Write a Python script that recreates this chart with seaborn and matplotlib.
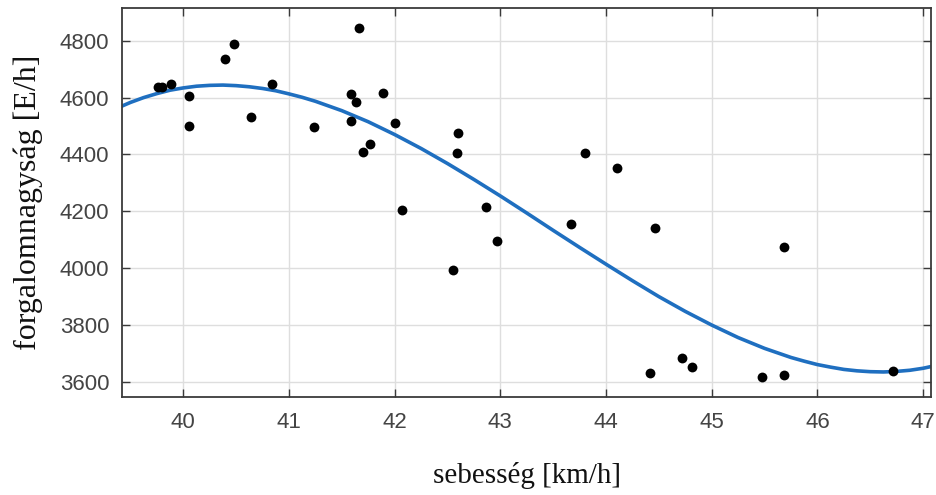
import numpy as np
import pandas as pd
import matplotlib
matplotlib.use("Agg")
import matplotlib.pyplot as plt
import seaborn as sns

# Measured points: speed [km/h] vs. traffic flow [E/h]
speed = [39.76, 39.80, 39.88, 40.05, 40.05, 40.39, 40.48, 40.64, 40.84, 41.24,
         41.59, 41.63, 41.59, 41.665, 41.70, 41.77, 41.89, 42.00, 42.07, 42.55,
         42.59, 42.60, 42.86, 42.97, 43.67, 43.80, 44.10, 44.42, 44.46, 44.72,
         44.81, 45.48, 45.68, 45.68, 46.72]
flow = [4636, 4638, 4647, 4606, 4501, 4735, 4787, 4533, 4647, 4496,
        4612, 4583, 4518, 4846, 4410, 4437, 4615, 4512, 4203, 3993,
        4406, 4475, 4215, 4095, 4155, 4406, 4354, 3633, 4142, 3683,
        3654, 3617, 3625, 4074, 3639]

# Fitted curve
curve_x = [39.25, 39.375, 39.5, 39.625, 39.75, 39.875, 40.0, 40.125, 40.25,
           40.375, 40.5, 40.625, 40.75, 40.875, 41.0, 41.125, 41.25, 41.5,
           41.75, 42.0, 42.25, 42.5, 42.75, 43.0, 43.25, 43.5, 43.75, 44.0,
           44.25, 44.5, 44.75, 45.0, 45.25, 45.5, 45.75, 45.875, 46.0, 46.125,
           46.25, 46.375, 46.5, 46.625, 46.75, 46.875, 47.0, 47.125, 47.25]
curve_y = [4539, 4563, 4583, 4600, 4614, 4626, 4634, 4640, 4643,
           4644, 4642, 4638, 4632, 4624, 4613, 4601, 4587, 4554,
           4515, 4470, 4421, 4368, 4312, 4254, 4194, 4133, 4073, 4014,
           3956, 3900, 3848, 3800, 3756, 3718, 3686, 3673, 3661, 3652,
           3644, 3639, 3636, 3635, 3637, 3641, 3648, 3658, 3670]

x_ticks = [40, 41, 42, 43, 44, 45, 46, 47]
y_ticks = [3600, 3800, 4000, 4200, 4400, 4600, 4800]

sns.set_theme(style="white")
plt.rcParams['font.family'] = ['Liberation Sans', 'DejaVu Sans']

fig = plt.figure(figsize=(9.37, 4.95), dpi=100)
ax = fig.add_axes([0.1302, 0.198, 0.8634, 0.7858])

pts = pd.DataFrame({"speed": speed, "flow": flow})
crv = pd.DataFrame({"x": curve_x, "y": curve_y})

sns.lineplot(data=crv, x="x", y="y", ax=ax, color="#1f6fc0", linewidth=2.6,
             sort=False, zorder=2, solid_joinstyle="round", solid_capstyle="round")
sns.scatterplot(data=pts, x="speed", y="flow", ax=ax, color="black", s=50,
                edgecolor="black", linewidth=0, zorder=3)

ax.set_xlim(39.42, 47.075)
ax.set_ylim(3547, 4915)
ax.set_xticks(x_ticks)
ax.set_yticks(y_ticks)
ax.set_xticklabels([str(v) for v in x_ticks])
ax.set_yticklabels([str(v) for v in y_ticks])

ax.grid(True, color="#dedede", linewidth=1.0)
ax.set_axisbelow(True)
for sp in ax.spines.values():
    sp.set_visible(True)
    sp.set_color("#3a3a3a")
    sp.set_linewidth(1.3)

ax.tick_params(axis="both", direction="in", length=6, width=1.0, color="#3a3a3a",
               top=True, right=True, bottom=True, left=True,
               labelsize=16, labelcolor="#444444")
ax.tick_params(axis="x", pad=11)
ax.tick_params(axis="y", pad=9)

ax.set_xlabel("sebesség [km/h]", family=["Liberation Serif", "DejaVu Serif"],
              fontsize=21, color="#111111", labelpad=21)
ax.set_ylabel("forgalomnagyság [E/h]", family=["Liberation Serif", "DejaVu Serif"],
              fontsize=23, color="#111111", labelpad=12)

fig.savefig("out.png", dpi=100)
